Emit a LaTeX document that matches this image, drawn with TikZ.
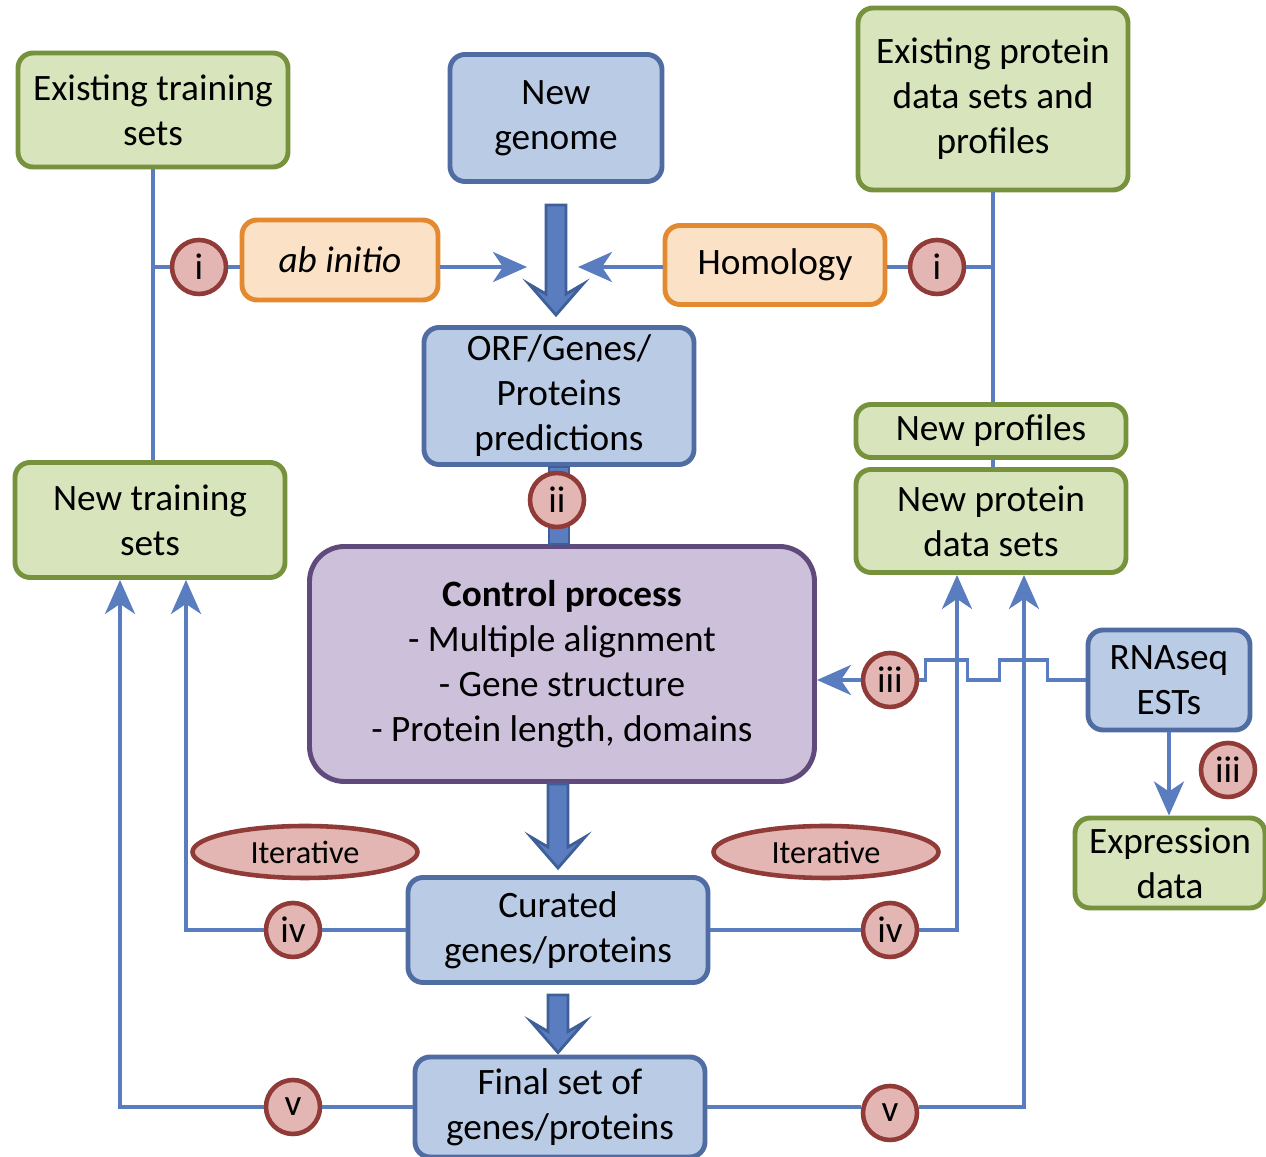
\documentclass[tikz,border=0pt]{standalone}
\usepackage{fontspec}
\setmainfont{Carlito}
\usepackage{tikz}
\usetikzlibrary{positioning, calc, arrows.meta, shapes.geometric}

\definecolor{greenfill}{HTML}{D8E4BC}
\definecolor{greenline}{HTML}{76923C}
\definecolor{bluefill}{HTML}{BACBE5}
\definecolor{blueline}{HTML}{4F6CA3}
\definecolor{purplefill}{HTML}{CCC0DA}
\definecolor{purpleline}{HTML}{604A7B}
\definecolor{orangefill}{HTML}{FBE2C6}
\definecolor{orangeline}{HTML}{E3892F}
\definecolor{tagfill}{HTML}{E3B6B3}
\definecolor{tagline}{HTML}{903B38}
\definecolor{linkblue}{HTML}{5A7DC0}
\definecolor{fatline}{HTML}{3F5F99}

\tikzset{
    box/.style={rounded corners=0.15cm, line width=1.4pt, align=center, inner sep=0pt},
    greenbox/.style={box, draw=greenline, fill=greenfill},
    bluebox/.style={box, draw=blueline, fill=bluefill},
    orangebox/.style={box, draw=orangeline, fill=orangefill},
    purplebox/.style={box, rounded corners=0.35cm, draw=purpleline, fill=purplefill},
    tag/.style={circle, draw=tagline, fill=tagfill, line width=1.3pt, minimum size=0.54cm, inner sep=0pt},
    iterative/.style={ellipse, draw=tagline, fill=tagfill, line width=1.3pt, minimum width=2.25cm, minimum height=0.52cm, inner sep=0pt, font=\fontsize{9.2}{11}\selectfont},
    link/.style={draw=linkblue, line width=1.1pt},
    linkarrow/.style={link, -{Stealth[length=0.34cm, width=0.3cm, inset=0.1cm]}},
    fatarrow/.style={fill=linkblue, draw=fatline, line width=0.8pt},
}

% thick downward arrow from #1 to tip #2
\newcommand{\fatdown}[2]{%
    \draw[fatarrow] ($(#2 |- #1)+(-0.1,0)$) -- ($(#2)+(-0.1,0.21)$) -- ($(#2)+(-0.27,0.31)$) -- (#2)
        -- ($(#2)+(0.27,0.31)$) -- ($(#2)+(0.1,0.21)$) -- ($(#2 |- #1)+(0.1,0)$) -- cycle;}

\begin{document}
\begin{tikzpicture}[font=\fontsize{10.6}{12.8}\selectfont]
    \useasboundingbox (0,0) rectangle (12.66,11.57);

    % data boxes
    \node[greenbox, minimum width=2.70cm, minimum height=1.14cm] (ets) at (1.53,10.47) {Existing training\\sets};
    \node[greenbox, minimum width=2.70cm, minimum height=1.82cm] (eps) at (9.93,10.58) {Existing protein\\data sets and\\profiles};
    \node[greenbox, minimum width=2.70cm, minimum height=0.53cm] (nprof) at (9.91,7.26) {New profiles};
    \node[greenbox, minimum width=2.70cm, minimum height=1.03cm] (npds) at (9.91,6.36) {New protein\\data sets};
    \node[greenbox, minimum width=2.70cm, minimum height=1.15cm] (nts) at (1.50,6.37) {New training\\sets};
    \node[greenbox, minimum width=1.90cm, minimum height=0.90cm] (expr) at (11.70,2.94) {Expression\\data};

    \node[bluebox, minimum width=2.12cm, minimum height=1.27cm] (genome) at (5.56,10.39) {New\\genome};
    \node[bluebox, minimum width=2.70cm, minimum height=1.37cm] (orf) at (5.59,7.61) {ORF/Genes/\\Proteins\\predictions};
    \node[bluebox, minimum width=3.00cm, minimum height=1.05cm] (cur) at (5.58,2.27) {Curated\\genes/proteins};
    \node[bluebox, minimum width=2.90cm, minimum height=1.00cm] (fin) at (5.60,0.50) {Final set of\\genes/proteins};
    \node[bluebox, minimum width=1.62cm, minimum height=1.00cm] (rna) at (11.69,4.77) {RNAseq\\ESTs};

    \node[purplebox, minimum width=5.05cm, minimum height=2.35cm] (ctrl) at (5.62,4.93)
        {\textbf{Control process}\\- Multiple alignment\\- Gene structure\\- Protein length, domains};

    \node[orangebox, minimum width=1.96cm, minimum height=0.80cm] (abin) at (3.40,8.97) {\textit{ab initio}};
    \node[orangebox, minimum width=2.20cm, minimum height=0.79cm] (hom) at (7.75,8.92) {Homology};

    % main flow
    \coordinate (g1) at ($(genome.south)+(0,-0.21)$);
    \coordinate (g2) at ($(orf.north)+(-0.03,0.1)$);
    \fatdown{g1}{g2}
    \draw[fatarrow] ($(orf.south)+(-0.1,0)$) rectangle ($(orf.south |- ctrl.north)+(0.1,0)$);
    \coordinate (c2) at ($(cur.north)+(0,0.07)$);
    \fatdown{ctrl.south}{c2}
    \coordinate (f1) at ($(cur.south)+(0,-0.1)$);
    \coordinate (f2) at ($(fin.north)+(-0.02,0.02)$);
    \fatdown{f1}{f2}

    % step tags
    \node[tag] (ci1) at (1.99,8.90) {i};
    \node[tag] (ci2) at (9.37,8.90) {i};
    \node[tag] (cii) at (5.57,6.57) {ii};
    \node[tag] (ciii1) at (8.90,4.77) {iii};
    \node[tag] (ciii2) at (12.28,3.87) {iii};
    \node[tag] (civ1) at (2.93,2.27) {iv};
    \node[tag] (civ2) at (8.90,2.27) {iv};
    \node[tag] (cv1) at (2.93,0.50) {v};
    \node[tag] (cv2) at (8.90,0.44) {v};

    \node[iterative] (it1) at (3.05,3.05) {Iterative};
    \node[iterative] (it2) at (8.26,3.05) {Iterative};

    % predictions
    \coordinate (abtip) at (5.27,8.90);
    \coordinate (homtip) at (5.78,8.90);
    \draw[link] (ets.south) -- (ets.south |- nts.north);
    \draw[link] (ets.south |- ci1) -- (ci1.west);
    \draw[link] (ci1.east) -- (abin.west |- ci1);
    \draw[linkarrow] (abin.east |- ci1) -- (abtip);
    \draw[link] (eps.south) -- (eps.south |- nprof.north);
    \draw[link] (eps.south |- nprof.south) -- (eps.south |- npds.north);
    \draw[link] (eps.south |- ci2) -- (ci2.east);
    \draw[link] (ci2.west) -- (hom.east |- ci2);
    \draw[linkarrow] (hom.west |- ci2) -- (homtip);

    % transcript evidence
    \draw[link] (rna.west) -- ++(-0.38,0) -- ++(0,0.2) -- ++(-0.48,0) -- ++(0,-0.2) -- ++(-0.32,0)
        -- ++(0,0.2) -- ++(-0.42,0) -- ++(0,-0.2) -- (ciii1.east);
    \draw[linkarrow] (ciii1.west) -- (ctrl.east |- ciii1);
    \draw[linkarrow] (rna.south) -- (rna.south |- expr.north);

    % feedback loops
    \draw[link] (cur.west) -- (civ1.east);
    \draw[linkarrow] (civ1.west) -| ($(nts.south)+(0.36,0)$);
    \draw[link] (fin.west) -- (cv1.east);
    \draw[linkarrow] (cv1.west) -| ($(nts.south)+(-0.30,0)$);
    \draw[link] (cur.east) -- (civ2.west);
    \draw[linkarrow] (civ2.east) -| ($(npds.south)+(-0.34,0)$);
    \draw[link] (fin.east |- cv1) -- (cv2.west |- cv1);
    \draw[linkarrow] (cv2.east |- cv1) -| ($(npds.south)+(0.33,0)$);
\end{tikzpicture}
\end{document}
